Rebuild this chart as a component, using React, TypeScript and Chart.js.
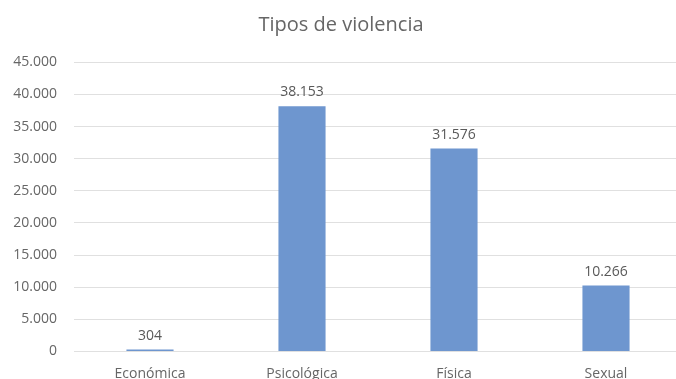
import React, { useEffect, useRef } from "react";
import { Chart, registerables } from "chart.js";

Chart.register(...registerables);

const categories = ["Económica", "Psicológica", "Física", "Sexual"];
const values = [304, 38153, 31576, 10266];
const yMax = 45000;
const yStep = 5000;
const titleText = "Tipos de violencia";

const fmt = (v: number) => String(Math.round(v)).replace(/\B(?=(\d{3})+(?!\d))/g, ".");

const FONT = "'Open Sans', 'Noto Sans', sans-serif";
const TEXT = "#666666";

const valueLabels = {
  id: "valueLabels",
  afterDatasetsDraw(chart: any) {
    const ctx = chart.ctx;
    const meta = chart.getDatasetMeta(0);
    ctx.save();
    ctx.font = `14px ${FONT}`;
    ctx.fillStyle = "#595959";
    ctx.textAlign = "center";
    ctx.textBaseline = "bottom";
    meta.data.forEach((el: any, i: number) => {
      ctx.fillText(fmt(values[i]), el.x, el.y - 7);
    });
    ctx.restore();
  },
};

export default function App() {
  const ref = useRef<HTMLCanvasElement | null>(null);
  useEffect(() => {
    if (!ref.current) return;
    const chart = new Chart(ref.current, {
      type: "bar",
      data: {
        labels: categories,
        datasets: [
          {
            data: values,
            backgroundColor: "#6E96CF",
            borderWidth: 0,
            barPercentage: 0.31,
            categoryPercentage: 1,
          },
        ],
      },
      options: {
        animation: false,
        responsive: true,
        maintainAspectRatio: false,
        layout: { padding: { left: 0, right: 0, top: 0, bottom: 10.5 } },
        plugins: {
          legend: { display: false },
          tooltip: { enabled: false },
          title: {
            display: true,
            text: titleText,
            color: TEXT,
            font: { family: FONT, size: 20, weight: "normal" as any, lineHeight: 1.2 },
            padding: { top: 13, bottom: 25.3 },
          },
        },
        scales: {
          x: {
            grid: { display: false, drawTicks: false },
            border: { display: false },
            ticks: { color: TEXT, font: { family: FONT, size: 14 }, padding: 14 },
            afterFit: (s: any) => {
              s.height = 30;
            },
          },
          y: {
            min: 0,
            max: yMax,
            grid: { color: "#E0E0E0", lineWidth: 1, drawTicks: false },
            border: { display: false },
            ticks: {
              stepSize: yStep,
              color: TEXT,
              font: { family: FONT, size: 14 },
              padding: 17,
              callback: (v: any) => fmt(Number(v)),
            },
            afterFit: (s: any) => {
              s.width = 74;
            },
          },
        },
      },
      plugins: [valueLabels],
    });
    return () => chart.destroy();
  }, []);
  return (
    <div style={{ position: "fixed", left: 0, top: 0, width: 682, height: 392, background: "#fff" }}>
      <canvas ref={ref} />
    </div>
  );
}
